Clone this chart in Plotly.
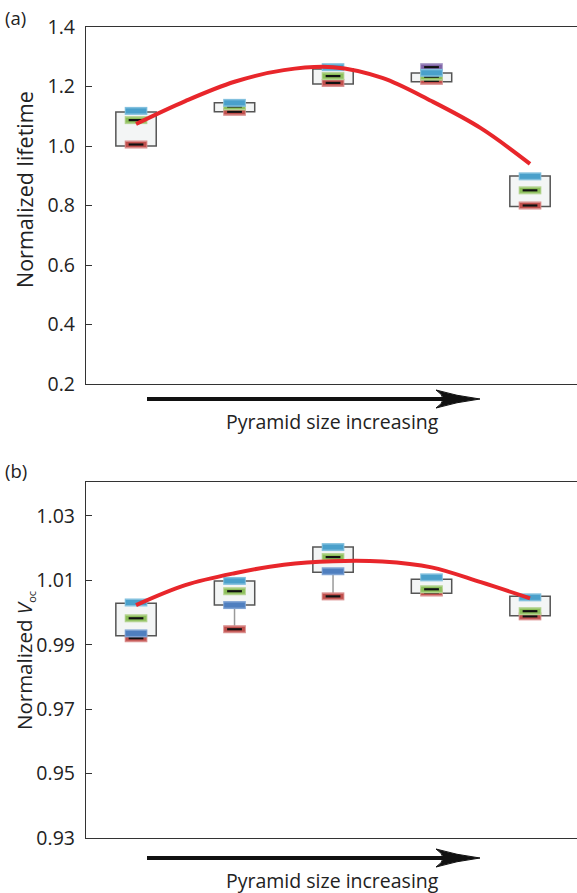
import plotly.graph_objects as go
from plotly.subplots import make_subplots

W, H = 577, 893

# Pyramid size groups (left to right = increasing size)
groups = [1, 2, 3, 4, 5]

# (a) Normalized lifetime
life_box_lo = [1.000, 1.115, 1.208, 1.216, 0.797]
life_box_hi = [1.114, 1.145, 1.259, 1.245, 0.899]
life_blue = [1.118, 1.145, 1.265, 1.246, 0.898]
life_green = [1.087, 1.133, 1.235, 1.233, 0.851]
life_red = [1.005, 1.115, 1.212, 1.219, 0.800]
life_purple = [None, None, None, 1.265, None]
life_steel = [None, None, None, None, None]
life_fit_x = [1, 1.5, 2, 2.5, 3, 3.5, 4, 4.5, 5]
life_fit_y = [1.074, 1.151, 1.216, 1.255, 1.265, 1.229, 1.151, 1.060, 0.940]

# (b) Normalized Voc
voc_box_lo = [0.9928, 1.0023, 1.0125, 1.0060, 0.9990]
voc_box_hi = [1.0029, 1.0098, 1.0203, 1.0103, 1.0050]
voc_blue = [1.0031, 1.0098, 1.0203, 1.0109, 1.0047]
voc_green = [0.9982, 1.0066, 1.0172, 1.0072, 1.0004]
voc_steel = [0.9935, 1.0023, 1.0128, None, None]
voc_red = [0.9920, 0.9948, 1.0050, 1.0062, 0.9988]
voc_purple = [None, None, None, None, None]
voc_fit_x = [1, 1.5, 2, 2.5, 3, 3.5, 4, 4.5, 5]
voc_fit_y = [1.0023, 1.0085, 1.0122, 1.0148, 1.0159, 1.0158, 1.0140, 1.0094, 1.0044]

life_ticks = [0.2, 0.4, 0.6, 0.8, 1.0, 1.2, 1.4]
voc_ticks = [0.93, 0.95, 0.97, 0.99, 1.01, 1.03]

FONT = "Open Sans"
AX_COL = "#333333"
TXT_COL = "#222222"

fig = make_subplots(rows=2, cols=1)


def segments(values, hw):
    xs, ys = [], []
    for g, v in zip(groups, values):
        if v is None:
            continue
        xs += [g - hw, g + hw, None]
        ys += [v, v, None]
    return xs, ys


def add_marks(row, values, edge, fill, core=True):
    xs, ys = segments(values, 0.115)
    fig.add_trace(go.Scatter(x=xs, y=ys, mode="lines", line=dict(color=edge, width=8),
                             hoverinfo="skip", showlegend=False), row=row, col=1)
    xs, ys = segments(values, 0.105)
    fig.add_trace(go.Scatter(x=xs, y=ys, mode="lines", line=dict(color=fill, width=5),
                             hoverinfo="skip", showlegend=False), row=row, col=1)
    if core:
        xs, ys = segments(values, 0.075)
        fig.add_trace(go.Scatter(x=xs, y=ys, mode="lines", line=dict(color="#111111", width=2.2),
                                 hoverinfo="skip", showlegend=False), row=row, col=1)


def add_panel(row, lo, hi, blue, green, steel, red, purple, fit_x, fit_y):
    # whiskers down to the minimum when it lies below the box
    wx, wy = [], []
    for g, b, r in zip(groups, lo, red):
        if r is not None and r < b - 1e-4:
            wx += [g, g, None]
            wy += [b, r, None]
    fig.add_trace(go.Scatter(x=wx, y=wy, mode="lines", line=dict(color="#9a9a9a", width=1.5),
                             hoverinfo="skip", showlegend=False), row=row, col=1)
    fig.add_trace(go.Bar(x=groups, y=[h - l for h, l in zip(hi, lo)], base=lo, width=0.41,
                         marker=dict(color="#f3f5f5", line=dict(color="#555555", width=1.5)),
                         hoverinfo="skip", showlegend=False), row=row, col=1)
    add_marks(row, red, "#d98b8a", "#c0504d")
    add_marks(row, green, "#b3d38f", "#8cbf5a")
    add_marks(row, steel, "#7fa3d3", "#4f7fbf", core=False)
    add_marks(row, purple, "#a493c4", "#7f63a6")
    add_marks(row, blue, "#82c0de", "#4aa0cb", core=False)
    fig.add_trace(go.Scatter(x=fit_x, y=fit_y, mode="lines",
                             line=dict(color="#e8262b", width=4, shape="spline"),
                             hoverinfo="skip", showlegend=False), row=row, col=1)


add_panel(1, life_box_lo, life_box_hi, life_blue, life_green, life_steel, life_red,
          life_purple, life_fit_x, life_fit_y)
add_panel(2, voc_box_lo, voc_box_hi, voc_blue, voc_green, voc_steel, voc_red,
          voc_purple, voc_fit_x, voc_fit_y)


def py(p):
    return 1 - p / H


def px(p):
    return p / W


x_dom = [px(86), 1.0]
xr = [0.492, 5.477]
for r, (top, bot) in zip([1, 2], [(27, 384), (482, 838)]):
    fig.update_xaxes(row=r, col=1, domain=x_dom, range=xr, showline=True, mirror=True,
                     linecolor=AX_COL, linewidth=1.3, showticklabels=False, ticks="",
                     showgrid=False, zeroline=False, fixedrange=True, automargin=False)
    fig.update_yaxes(row=r, col=1, domain=[py(bot), py(top)], showline=True, mirror=False,
                     linecolor=AX_COL, linewidth=1.3, ticks="inside", ticklen=6,
                     tickcolor=AX_COL, tickwidth=1.3, showgrid=False, zeroline=False,
                     tickfont=dict(family=FONT, size=19.5, color=TXT_COL),
                     ticklabelstandoff=6, fixedrange=True, automargin=False)

fig.update_yaxes(row=1, col=1, range=[0.2, 1.4], tickvals=life_ticks, tickformat=".1f")
fig.update_yaxes(row=2, col=1, range=[0.93, 1.0405], tickvals=voc_ticks, tickformat=".2f")

ann = []
shapes = []
for label, ly, title, tsize, tx, ty, arrow_y in [
    ("(a)", 18, "Normalized lifetime", 21.5, 25, 190, 399),
    ("(b)", 470,
     "Normalized <i>V</i><sub><span style='font-size:11px'>oc</span></sub>",
     20.5, 24, 661, 858),
]:
    ann.append(dict(text=label, x=px(3), y=py(ly), xref="paper", yref="paper",
                    xanchor="left", yanchor="middle", showarrow=False,
                    font=dict(family=FONT, size=18.5, color=TXT_COL)))
    ann.append(dict(text=title, x=px(tx), y=py(ty), xref="paper", yref="paper",
                    xanchor="center", yanchor="middle", textangle=-90, showarrow=False,
                    font=dict(family=FONT, size=tsize, color=TXT_COL)))
    ann.append(dict(text="Pyramid size increasing", x=px(332), y=py(arrow_y + 22),
                    xref="paper", yref="paper", xanchor="center", yanchor="middle",
                    showarrow=False, font=dict(family=FONT, size=19.5, color=TXT_COL)))
    # arrow shaft
    shapes.append(dict(type="line", xref="paper", yref="paper",
                       x0=px(147), x1=px(452), y0=py(arrow_y), y1=py(arrow_y),
                       line=dict(color="#111111", width=4)))
    # arrow head
    tip = 480
    path = (f"M {px(436)} {py(arrow_y - 9)} "
            f"Q {px(456)} {py(arrow_y - 3)} {px(tip)} {py(arrow_y)} "
            f"Q {px(456)} {py(arrow_y + 3)} {px(436)} {py(arrow_y + 9)} "
            f"Q {px(450)} {py(arrow_y)} {px(436)} {py(arrow_y - 9)} Z")
    shapes.append(dict(type="path", xref="paper", yref="paper", path=path,
                       fillcolor="#111111", line=dict(color="#111111", width=1)))

fig.update_layout(width=W, height=H,
                  margin=dict(l=0, r=0, t=0, b=0, pad=0, autoexpand=False),
                  plot_bgcolor="white", paper_bgcolor="white", barmode="overlay",
                  annotations=ann, shapes=shapes, showlegend=False)

fig.write_html("out.html")
